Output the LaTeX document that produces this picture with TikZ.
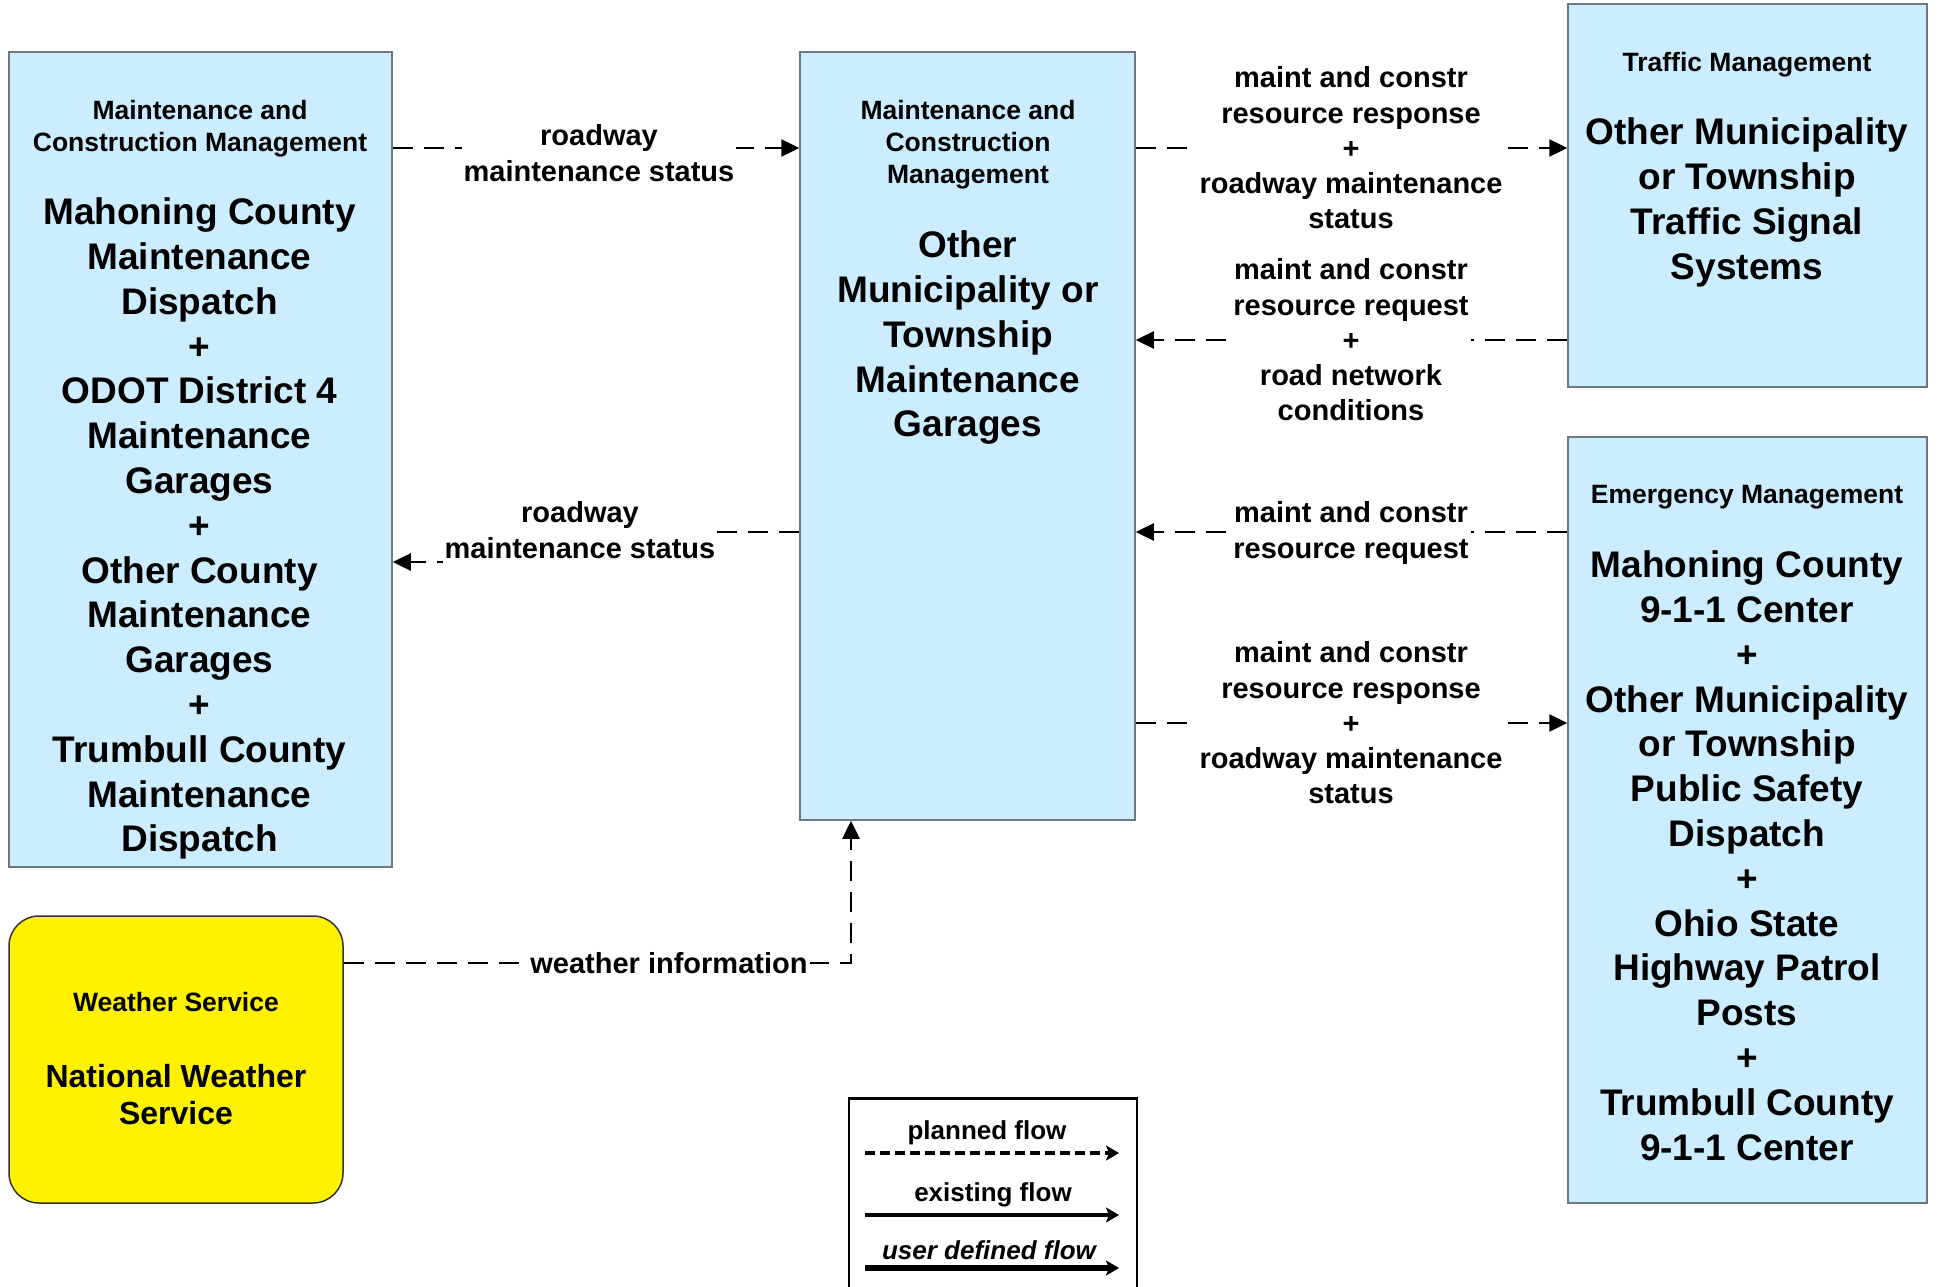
\documentclass[tikz,border=0pt]{standalone}
\usepackage{fontspec}
\setmainfont{Liberation Sans}
\usetikzlibrary{arrows.meta}
\definecolor{boxblue}{RGB}{204,236,255}
\definecolor{boxline}{RGB}{110,120,130}
\newcommand{\ttlfont}{\fontsize{26.5}{32}\selectfont\bfseries}
\newcommand{\namefont}{\fontsize{37}{44.8}\selectfont\bfseries}
\newcommand{\wxfont}{\fontsize{32}{37}\selectfont\bfseries}
\newcommand{\flowfont}{\fontsize{29}{35.3}\selectfont\bfseries}
\newcommand{\keyfont}{\fontsize{26}{30}\selectfont\bfseries}
\tikzstyle{sys}=[fill=boxblue, draw=boxline, line width=1.5pt, shape=rectangle, inner sep=0pt]
\tikzstyle{wx}=[fill=yellow, draw=black!80, line width=1.5pt, shape=rectangle, rounded corners=30pt, inner sep=0pt]
\tikzstyle{ttl}=[anchor=north, align=center, inner sep=0pt, font=\ttlfont]
\tikzstyle{nam}=[anchor=north, align=center, inner sep=0pt, font=\namefont]
\tikzstyle{flw}=[line width=2.5pt, dash pattern=on 20pt off 11pt, -{Triangle[length=18pt, width=17pt]}]
\tikzstyle{lbl}=[fill=white, align=center, inner sep=2pt, font=\flowfont]
\tikzstyle{key}=[font=\keyfont, inner sep=0pt]

\begin{document}
\begin{tikzpicture}[x=1pt, y=-1pt]
		\useasboundingbox (0,0) rectangle (1939,1287);

		\node [style=sys, minimum width=383pt, minimum height=815pt] (10) at (200.5, 459.5) {};
		\node [style=sys, minimum width=335pt, minimum height=768pt] (20) at (967.5, 436) {};
		\node [style=sys, minimum width=359pt, minimum height=383pt] (30) at (1747.5, 195.5) {};
		\node [style=sys, minimum width=359pt, minimum height=766pt] (40) at (1747.5, 820) {};
		\node [style=wx, minimum width=334pt, minimum height=287pt] (50) at (176, 1059.5) {};

		\draw [style=flw] (10.east |- 0,148) to (20.west |- 0,148);
		\draw [style=flw] (20.west |- 0,532) -- (580,532) -- (580,562) -- (10.east |- 0,562);
		\draw [style=flw] (20.east |- 0,148) to (30.west |- 0,148);
		\draw [style=flw] (30.west |- 0,340) to (20.east |- 0,340);
		\draw [style=flw] (40.west |- 0,532) to (20.east |- 0,532);
		\draw [style=flw] (20.east |- 0,723) to (40.west |- 0,723);
		\draw [style=flw] (50.east |- 0,963) -| (20.south -| 851,0);

		\node [style=lbl] (61) at (599, 153) {roadway\\maintenance status};
		\node [style=lbl, inner xsep=2pt, inner ysep=7pt] (62) at (580, 530) {roadway\\maintenance status};
		\node [style=lbl] (63) at (1351, 148) {maint and constr\\resource response\\+\\roadway maintenance\\status};
		\node [style=lbl] (64) at (1351, 340) {maint and constr\\resource request\\+\\road network\\conditions};
		\node [style=lbl] (65) at (1351, 533) {maint and constr\\resource request};
		\node [style=lbl] (66) at (1351, 723) {maint and constr\\resource response\\+\\roadway maintenance\\status};
		\node [style=lbl] (67) at (669, 963) {weather information};

		\node [style=ttl] (11) at (200, 100.5) {Maintenance and\\Construction Management};
		\node [style=nam] (12) at (199.5, 197.7) {Mahoning County\\Maintenance\\Dispatch\\+\\ODOT District 4\\Maintenance\\Garages\\+\\Other County\\Maintenance\\Garages\\+\\Trumbull County\\Maintenance\\Dispatch};

		\node [style=ttl] (21) at (968, 100.5) {Maintenance and\\Construction\\Management};
		\node [style=nam] (22) at (968, 230.7) {Other\\Municipality or\\Township\\Maintenance\\Garages};

		\node [style=ttl] (31) at (1747, 52.5) {Traffic Management};
		\node [style=nam] (32) at (1747, 117.7) {Other Municipality\\or Township\\Traffic Signal\\Systems};

		\node [style=ttl] (41) at (1747, 485.5) {Emergency Management};
		\node [style=nam] (42) at (1747, 550.7) {Mahoning County\\9-1-1 Center\\+\\Other Municipality\\or Township\\Public Safety\\Dispatch\\+\\Ohio State\\Highway Patrol\\Posts\\+\\Trumbull County\\9-1-1 Center};

		\node [style=ttl] (51) at (176, 992.5) {Weather Service};
		\node [style=nam, font=\wxfont] (52) at (176, 1064.5) {National Weather\\Service};

		\node [draw, line width=2.5pt, minimum width=288pt, minimum height=220pt, anchor=north west] (70) at (847.5, 1097) {};
		\node [style=key] (71) at (987, 1133) {planned flow};
		\node [style=key] (74) at (993, 1195) {existing flow};
		\node [style=key, font=\keyfont\itshape] (77) at (989, 1250) {user defined flow};
		\coordinate (72) at (865, 1153);
		\coordinate (73) at (1119, 1153);
		\coordinate (75) at (865, 1215);
		\coordinate (76) at (1119, 1215);
		\coordinate (78) at (865, 1268);
		\coordinate (79) at (1119, 1268);
		\draw [line width=4pt, dash pattern=on 10pt off 5pt, -{Stealth[length=13pt, width=15pt, inset=3pt]}] (72) to (73);
		\draw [line width=4pt, -{Stealth[length=13pt, width=15pt, inset=3pt]}] (75) to (76);
		\draw [line width=6pt, -{Stealth[length=13pt, width=15pt, inset=3pt]}] (78) to (79);
	\end{tikzpicture}
\end{document}
